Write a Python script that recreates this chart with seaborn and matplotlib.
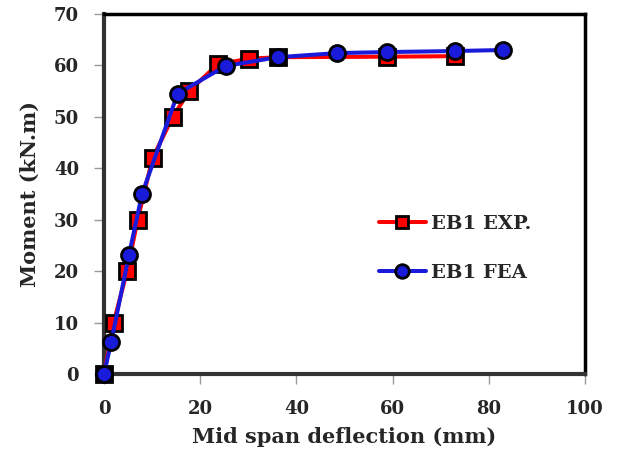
import matplotlib
matplotlib.use("Agg")
import matplotlib.pyplot as plt
import seaborn as sns
import pandas as pd

# Data
exp_x = [0, 2.0, 4.8, 7.0, 10.1, 14.3, 17.7, 23.6, 30.1, 36.1, 58.9, 73.0]
exp_y = [0, 10.0, 20.0, 30.0, 42.0, 50.0, 55.0, 60.2, 61.3, 61.6, 61.7, 61.8]
fea_x = [0, 1.5, 5.2, 7.9, 15.3, 25.3, 36.1, 48.5, 58.9, 73.0, 83.0]
fea_y = [0, 6.2, 23.2, 35.0, 54.5, 59.9, 61.6, 62.4, 62.6, 62.8, 63.0]
x_ticks = [0, 20, 40, 60, 80, 100]
y_ticks = [0, 10, 20, 30, 40, 50, 60, 70]
labels = ["EB1 EXP.", "EB1 FEA"]

sns.set_theme(style="white")
plt.rcParams['font.family'] = ['DejaVu Serif']
plt.rcParams['font.weight'] = 'bold'

fig = plt.figure(figsize=(6.18, 4.57), dpi=100)
ax = fig.add_axes([104/618, 1-374/457, (585-104)/618, (374-14)/457])

df_exp = pd.DataFrame({"x": exp_x, "y": exp_y})
df_fea = pd.DataFrame({"x": fea_x, "y": fea_y})

sns.lineplot(data=df_exp, x="x", y="y", sort=False, ax=ax, color="#ff0000",
             linewidth=2.9, marker="s", markersize=11, markerfacecolor="#ff0000",
             markeredgecolor="black", markeredgewidth=2.0, label=labels[0],
             clip_on=False, zorder=3)
sns.lineplot(data=df_fea, x="x", y="y", sort=False, ax=ax, color="#1a1adb",
             linewidth=2.9, marker="o", markersize=11.5, markerfacecolor="#1a1adb",
             markeredgecolor="black", markeredgewidth=2.0, label=labels[1],
             clip_on=False, zorder=4)

ax.set_xlim(0, 100)
ax.set_ylim(0, 70)
ax.set_xticks(x_ticks)
ax.set_yticks(y_ticks)
ax.set_xticklabels([str(t) for t in x_ticks], fontsize=13, fontweight='bold')
ax.set_yticklabels([str(t) for t in y_ticks], fontsize=13, fontweight='bold')
ax.tick_params(axis='both', which='both', direction='out', length=7, width=1,
               color='#999999', bottom=True, left=True)
ax.tick_params(axis='x', pad=12)
ax.tick_params(axis='y', pad=11)

for side in ['top', 'right']:
    ax.spines[side].set_color('black')
    ax.spines[side].set_linewidth(2.5)
for side in ['left', 'bottom']:
    ax.spines[side].set_color('#333333')
    ax.spines[side].set_linewidth(3)

ax.set_xlabel("Mid span deflection (mm)", fontsize=15, fontweight='bold', labelpad=6)
ax.set_ylabel("Moment (kN.m)", fontsize=15, fontweight='bold', labelpad=10)
ax.grid(False)

leg = ax.legend(loc='upper left', bbox_to_anchor=(0.535, 0.49), frameon=False,
                prop={'weight': 'bold', 'size': 14}, markerscale=0.85,
                handlelength=2.4, labelspacing=1.6, handletextpad=0.3)

fig.savefig("out.png", dpi=100)
